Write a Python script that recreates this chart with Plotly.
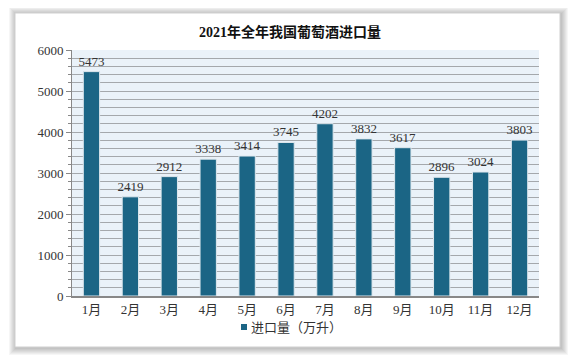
import plotly.graph_objects as go

months = ["1月", "2月", "3月", "4月", "5月", "6月", "7月", "8月", "9月", "10月", "11月", "12月"]
imports = [5473, 2419, 2912, 3338, 3414, 3745, 4202, 3832, 3617, 2896, 3024, 3803]
series_name = "进口量（万升）"
title_text = "2021年全年我国葡萄酒进口量"

FONT = "Liberation Serif, Noto Sans CJK SC, serif"
BAR_COLOR = "#1b6585"

OFF = 8  # page body margin
W, H = 577, 361
L, R, T, B = 72 - OFF, 539 - OFF, 50 - OFF, 296 - OFF
pw, ph = R - L, B - T

def px_x(x):
    return (x - OFF - L) / pw

def px_y(y):
    return (B - (y - OFF)) / ph

fig = go.Figure()
fig.add_trace(go.Bar(
    x=months, y=imports, name=series_name,
    marker=dict(color=BAR_COLOR, line=dict(color="#dfe8ee", width=1)),
    width=0.42,
    text=[str(v) for v in imports], textposition="outside",
    constraintext="none",
    textfont=dict(family=FONT, size=13, color="#333333"),
    cliponaxis=False,
    showlegend=False,
))

BX0, BX1, BY0, BY1 = 15, 560, 13, 347
shapes = []
for d in range(7, 0, -1):
    shapes.append(dict(type="rect", xref="paper", yref="paper", layer="below",
                       x0=px_x(BX0 - d + 1), x1=px_x(BX1 + d + 1), y0=px_y(BY1 + d + 1), y1=px_y(BY0 - d + 1),
                       line=dict(width=0), fillcolor="rgba(0,0,0,0.035)"))
shapes.append(dict(type="rect", xref="paper", yref="paper", layer="below",
                   x0=px_x(BX0), x1=px_x(BX1), y0=px_y(BY1), y1=px_y(BY0),
                   line=dict(color="#cfcfcf", width=1), fillcolor="white"))
shapes.append(dict(type="rect", xref="paper", yref="paper", layer="below",
                   x0=0, x1=1, y0=0, y1=1, line=dict(width=0), fillcolor="#eaf2f9"))
# legend swatch
shapes.append(dict(type="rect", xref="paper", yref="paper",
                   x0=px_x(241), x1=px_x(247), y0=px_y(330), y1=px_y(324),
                   line=dict(width=0), fillcolor=BAR_COLOR))

annotations = [dict(text=series_name, xref="paper", yref="paper", x=px_x(249), y=px_y(327),
                    xanchor="left", yanchor="middle", showarrow=False,
                    font=dict(family=FONT, size=13, color="#333333"))]

fig.update_layout(
    width=W, height=H,
    margin=dict(l=L, r=W - R, t=T, b=H - B, autoexpand=False),
    paper_bgcolor="rgba(0,0,0,0)", plot_bgcolor="#eaf2f9",
    title=dict(text="<b>" + title_text + "</b>", x=(290 - OFF) / W, xanchor="center",
               y=1 - (32 - OFF) / H, yanchor="middle", font=dict(family=FONT, size=14, color="#111111")),
    font=dict(family=FONT, size=13, color="#333333"),
    showlegend=False,
    shapes=shapes,
    annotations=annotations,
)
fig.update_yaxes(
    range=[0, 6000], dtick=1000, tick0=0,
    showgrid=True, gridcolor="#a4a8ac", gridwidth=1,
    minor=dict(dtick=200, showgrid=True, gridcolor="#a4a8ac", gridwidth=1,
               ticks="outside", ticklen=3, tickcolor="#888888"),
    ticks="outside", ticklen=5, tickcolor="#888888",
    showline=True, linecolor="#888888", linewidth=1,
    tickfont=dict(family=FONT, size=13, color="#333333"),
    zeroline=False,
)
fig.update_xaxes(
    showline=True, linecolor="#888888", linewidth=2,
    ticks="", tickfont=dict(family=FONT, size=13, color="#333333"),
)

fig.write_html("out.html")
